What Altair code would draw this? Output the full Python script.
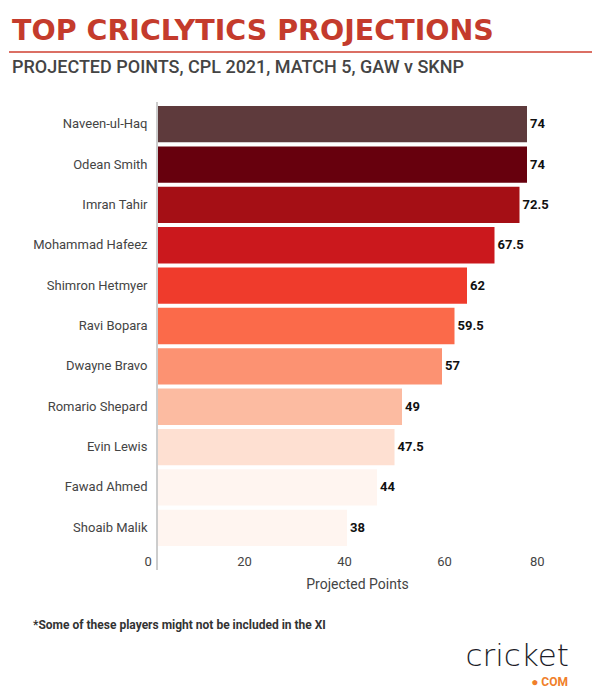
import altair as alt
import pandas as pd

players = ["Naveen-ul-Haq", "Odean Smith", "Imran Tahir", "Mohammad Hafeez",
           "Shimron Hetmyer", "Ravi Bopara", "Dwayne Bravo", "Romario Shepard",
           "Evin Lewis", "Fawad Ahmed", "Shoaib Malik"]
points = [74, 74, 72.5, 67.5, 62, 59.5, 57, 49, 47.5, 44, 38]
colors = ["#5e3a3c", "#67000d", "#a50f15", "#cb181d", "#ef3b2c", "#fb6a4a",
          "#fc9272", "#fcbba1", "#fee0d2", "#fff5f0", "#fff5f0"]
x_ticks = [0, 20, 40, 60, 80]

title_text = "TOP CRICLYTICS PROJECTIONS"
subtitle_text = "PROJECTED POINTS, CPL 2021, MATCH 5, GAW v SKNP"
footnote_text = "*Some of these players might not be included in the XI"
x_title = "Projected Points"

df = pd.DataFrame({
    "player": players,
    "points": points,
    "label": [f"{v:g}" for v in points],
})

base = alt.Chart(df)

bars = base.mark_bar().encode(
    y=alt.Y("player:N", sort=players,
            scale=alt.Scale(paddingInner=0.1, paddingOuter=0.05),
            axis=alt.Axis(title=None, ticks=False, domain=False,
                          labelFont="Roboto", labelFontSize=13,
                          labelColor="#444444", labelPadding=10)),
    x=alt.X("points:Q", scale=alt.Scale(domain=[0, 80]),
            axis=alt.Axis(values=x_ticks, title=x_title, grid=False,
                          domain=False, ticks=False, labelFont="Roboto",
                          labelFontSize=13, labelColor="#444444",
                          labelPadding=7, labelOffset=-13,
                          titleFont="Roboto", titleFontSize=14,
                          titleFontWeight="normal", titleColor="#444444",
                          titlePadding=9)),
    color=alt.Color("player:N", scale=alt.Scale(domain=players, range=colors),
                    legend=None),
)

values = base.mark_text(align="left", baseline="middle", dx=3,
                        font="Roboto", fontWeight="bold", fontSize=13,
                        color="#111111").encode(
    y=alt.Y("player:N", sort=players),
    x="points:Q",
    text="label:N",
)

axis_line = base.mark_rule(color="#cccccc", strokeWidth=1).encode(
    x=alt.datum(0), y=alt.value(-2), y2=alt.value(466)
)

one = pd.DataFrame({"t": [title_text]})
title = alt.Chart(one).mark_text(
    align="left", baseline="alphabetic", font="DejaVu Sans", fontWeight="bold",
    fontSize=28.5, color="#c43b2c"
).encode(x=alt.value(-145), y=alt.value(-64), text="t:N")

red_line = alt.Chart(one).mark_rule(color="#cf3f31", strokeWidth=1.5).encode(
    x=alt.value(-148), x2=alt.value(435), y=alt.value(-52)
)

subtitle = alt.Chart(pd.DataFrame({"t": [subtitle_text]})).mark_text(
    align="left", baseline="alphabetic", font="Roboto", fontWeight=500,
    fontSize=18, color="#444444"
).encode(x=alt.value(-145), y=alt.value(-31), text="t:N")

footnote = alt.Chart(pd.DataFrame({"t": [footnote_text]})).mark_text(
    align="left", baseline="middle", font="Roboto", fontWeight="bold",
    fontSize=12, color="#333333"
).encode(x=alt.value(-124), y=alt.value(521), text="t:N")

logo = alt.Chart(pd.DataFrame({"t": ["cricket"]})).mark_text(
    align="right", baseline="alphabetic", font="DejaVu Sans", fontWeight=300,
    fontSize=31, color="#1c1c28"
).encode(x=alt.value(412), y=alt.value(562), text="t:N")

logo_com = alt.Chart(pd.DataFrame({"t": ["● COM"]})).mark_text(
    align="right", baseline="middle", font="Roboto", fontWeight="bold",
    fontSize=12, color="#f07f2a"
).encode(x=alt.value(411), y=alt.value(578), text="t:N")

chart = alt.layer(
    bars, values, axis_line, title, red_line, subtitle, footnote, logo, logo_com
).properties(
    width=400, height=444,
    background="white",
    autosize=alt.AutoSizeParams(type="none"),
    padding={"left": 149, "top": 96, "right": 35, "bottom": 141},
).configure_view(strokeWidth=0, stroke="transparent")

chart.save("out.html", embed_options={"renderer": "svg", "actions": False})
